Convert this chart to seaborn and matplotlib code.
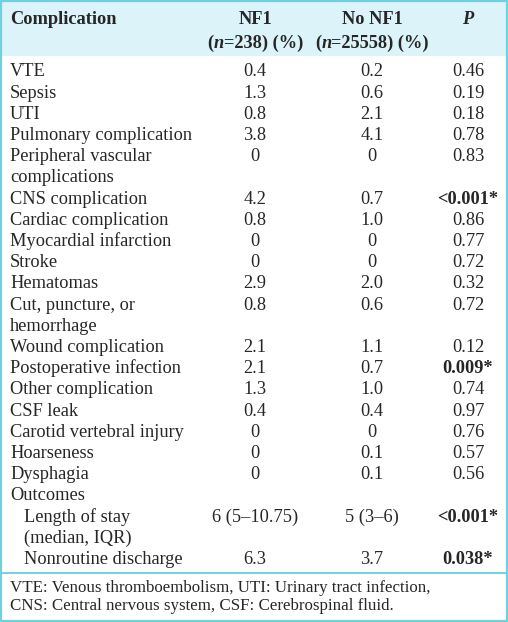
import matplotlib
matplotlib.use("Agg")
import matplotlib.pyplot as plt
import seaborn as sns
from matplotlib.patches import Rectangle

# Table content
labels = ["VTE", "Sepsis", "UTI", "Pulmonary complication",
          "Peripheral vascular\ncomplications", "CNS complication",
          "Cardiac complication", "Myocardial infarction", "Stroke",
          "Hematomas", "Cut, puncture, or\nhemorrhage", "Wound complication",
          "Postoperative infection", "Other complication", "CSF leak",
          "Carotid vertebral injury", "Hoarseness", "Dysphagia", "Outcomes",
          "Length of stay\n(median, IQR)", "Nonroutine discharge"]
nf1 = ["0.4", "1.3", "0.8", "3.8", "0", "4.2", "0.8", "0", "0", "2.9", "0.8",
       "2.1", "2.1", "1.3", "0.4", "0", "0", "0", "", "6 (5\u201310.75)", "6.3"]
no_nf1 = ["0.2", "0.6", "2.1", "4.1", "0", "0.7", "1.0", "0", "0", "2.0", "0.6",
          "1.1", "0.7", "1.0", "0.4", "0", "0.1", "0.1", "", "5 (3\u20136)", "3.7"]
p_vals = ["0.46", "0.19", "0.18", "0.78", "0.83", "<0.001*", "0.86", "0.77",
          "0.72", "0.32", "0.72", "0.12", "0.009*", "0.74", "0.97", "0.76",
          "0.57", "0.56", "", "<0.001*", "0.038*"]
indented = ["Length of stay\n(median, IQR)", "Nonroutine discharge"]
footnote = ["VTE: Venous thromboembolism, UTI: Urinary tract infection,",
            "CNS: Central nervous system, CSF: Cerebrospinal fluid."]

sns.set_theme(style="white")
plt.rcParams['font.family'] = ['Liberation Serif', 'DejaVu Serif']

W, H = 508, 622
header_bg = "#dcf3fa"
edge = "#6fd0e4"
fs = 13.2

fig = plt.figure(figsize=(W / 100, H / 100), dpi=100)
ax = fig.add_axes([0, 0, 1, 1])
ax.set_xlim(0, W)
ax.set_ylim(H, 0)
ax.axis("off")

col_x = [10, 255, 372, 468]

# header background + frame
ax.add_patch(Rectangle((0, 0), W, 56, facecolor=header_bg, edgecolor="none"))
ax.add_patch(Rectangle((1, 0.5), W - 2.5, H - 2, facecolor="none", edgecolor=edge, lw=1.6))
ax.axhline(573, color=edge, lw=1.4)

renderer = fig.canvas.get_renderer()


def seg_text(x, y, parts):
    # draw text segments side by side, centered on x
    arts = [ax.text(0, y, t, fontsize=fs, va="baseline", ha="left", **kw) for t, kw in parts]
    widths = [a.get_window_extent(renderer).width for a in arts]
    cur = x - sum(widths) / 2
    for a, w in zip(arts, widths):
        a.set_x(cur)
        cur += w


b = dict(fontweight="bold")
bi = dict(fontweight="bold", fontstyle="italic")
ax.text(col_x[0], 24, "Complication", fontsize=fs, va="baseline", **b)
seg_text(col_x[1], 24, [("NF1", b)])
seg_text(col_x[1], 47.5, [("(", b), ("n", bi), ("=238) (%)", b)])
seg_text(col_x[2], 24, [("No NF1", b)])
seg_text(col_x[2], 47.5, [("(", b), ("n", bi), ("=25558) (%)", b)])
seg_text(col_x[3], 24, [("P", bi)])

y0, pitch = 76.5, 21.2
line = 0
for lab, a, c, p in zip(labels, nf1, no_nf1, p_vals):
    y = y0 + line * pitch
    dx = 14 if lab in indented else 0
    for k, part in enumerate(lab.split("\n")):
        ax.text(col_x[0] + dx, y + k * pitch, part, fontsize=fs, va="baseline")
    ax.text(col_x[1], y, a, fontsize=fs, va="baseline", ha="center")
    ax.text(col_x[2], y, c, fontsize=fs, va="baseline", ha="center")
    ax.text(col_x[3], y, p, fontsize=fs, va="baseline", ha="center",
            fontweight="bold" if "*" in p else "normal")
    line += lab.count("\n") + 1

for k, t in enumerate(footnote):
    ax.text(col_x[0], 592 + k * 17.5, t, fontsize=fs * 0.92, va="baseline")

fig.savefig("out.png", dpi=100)
